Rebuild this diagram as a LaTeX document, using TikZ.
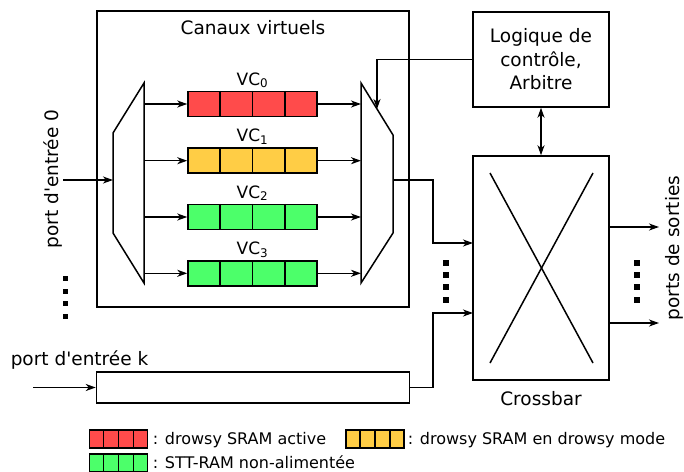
\documentclass[tikz,border=0pt]{standalone}
\usepackage{fontspec}
\setmainfont{DejaVu Sans}[Ligatures=TeXOff]
\usetikzlibrary{arrows.meta,calc}
\definecolor{vcred}{RGB}{255,75,75}
\definecolor{vcyel}{RGB}{255,205,69}
\definecolor{vcgreen}{RGB}{76,255,106}
\newcommand\cellsdiv[1]{\foreach \k in {1,2,3} \draw ($(#1.north west)!\k/4!(#1.north east)$) -- ($(#1.south west)!\k/4!(#1.south east)$);}
\begin{document}
\begin{tikzpicture}[x=1pt,y=-1pt,line width=1.5pt,
  >={Stealth[length=10pt,width=7pt,inset=3pt]}]
\tikzset{
 plainbox/.style={draw, inner sep=0pt},
 txt/.style={font=\fontsize{18.5}{23.5}\selectfont, inner sep=0pt},
 vctxt/.style={font=\fontsize{17}{20}\selectfont, inner sep=0pt, anchor=base},
 legtxt/.style={font=\fontsize{16}{19}\selectfont, inner sep=0pt, anchor=base west},
 buf/.style={draw, inner sep=0pt, minimum width=129pt, minimum height=25pt},
 swatch/.style={draw, inner sep=0pt, minimum width=58pt, minimum height=18pt},
 sqdot/.style={fill, inner sep=0pt, minimum size=#1},
}
\useasboundingbox (0,0) rectangle (684,471);

% Canaux virtuels
\node[plainbox, minimum width=312pt, minimum height=296pt] (cv) at (253,159) {};
\node[txt, anchor=base] (cvl) at (253,34.5) {Canaux virtuels};

% demux
\coordinate (dm1) at (144,83);
\coordinate (dm2) at (113,133);
\coordinate (dm3) at (113,233);
\coordinate (dm4) at (144,283);
\draw (dm1) -- (dm2) -- (dm3) -- (dm4) -- cycle;
\coordinate (dmin) at (113,180);
% mux
\coordinate (mx1) at (361,83);
\coordinate (mx2) at (393,135);
\coordinate (mx3) at (393,233);
\coordinate (mx4) at (361,283);
\draw (mx1) -- (mx2) -- (mx3) -- (mx4) -- cycle;
\coordinate (mxout) at (393,180);
\coordinate (mxctl) at (377,109);

\foreach \i/\y/\c in {0/104/vcred,1/160.7/vcyel,2/217/vcgreen,3/273.3/vcgreen}{
  \node[buf, fill=\c] (b\i) at (252.5,\y) {};
  \cellsdiv{b\i}
  \node[vctxt] (vcl\i) at (252.5,\y-19) {VC\textsubscript{\i}};
  \coordinate (dmo\i) at (144,\y);
  \coordinate (mxi\i) at (361,\y);
  \draw[->] (dmo\i) -- (b\i.west);
  \draw[->] (b\i.east) -- (mxi\i);
}

% input 0
\coordinate (in0) at (63,180);
\draw[->] (in0) -- (dmin);
\node[txt, rotate=90, anchor=base] (p0l) at (58,179) {port d'entrée 0};
\foreach \y [count=\n] in {278,291,303,316} \node[sqdot=5pt] (ld\n) at (65,\y) {};

% control logic
\node[plainbox, txt, align=center, minimum width=136pt, minimum height=95pt] (lg) at (541,59.5) {Logique de\\contrôle,\\Arbitre};
\draw[->] (lg.west) -| (mxctl);

% crossbar
\node[plainbox, minimum width=136pt, minimum height=224pt] (xb) at (541,268) {};
\draw (490,173) -- (593,363);
\draw (593,173) -- (490,363);
\node[txt, anchor=base] (xbl) at (541,405) {Crossbar};
\draw[<->] (lg.south) -- (xb.north);

\coordinate (j0) at (433,180);
\coordinate (xbi0) at (473,243);
\draw[->] (mxout) -- (j0) |- (xbi0);

% port k
\node[plainbox, minimum width=313pt, minimum height=31pt] (pk) at (253,387.5) {};
\coordinate (ink) at (33,387.5);
\draw[->] (ink) -- (pk.west);
\node[txt, anchor=base west] (pkl) at (10,365) {port d'entrée k};
\coordinate (j1) at (433,387.5);
\coordinate (xbi1) at (473,313);
\draw[->] (pk.east) -- (j1) |- (xbi1);

\foreach \y [count=\n] in {263,275,287,300} {
  \node[sqdot=6pt] (md\n) at (446,\y) {};
  \node[sqdot=6pt] (rd\n) at (637,\y) {};
}

% outputs
\coordinate (o0) at (659,227);
\coordinate (o1) at (659,323);
\draw[->] (xb.east |- o0) -- (o0);
\draw[->] (xb.east |- o1) -- (o1);
\node[txt, rotate=90, anchor=base] (outl) at (679.5,248) {ports de sorties};

% legend
\node[swatch, fill=vcred] (lr) at (118.5,439) {};
\cellsdiv{lr}
\node[legtxt] (lrt) at (152,444) {: drowsy SRAM active};
\node[swatch, fill=vcyel] (ly) at (375,439) {};
\cellsdiv{ly}
\node[legtxt] (lyt) at (407,444) {: drowsy SRAM en drowsy mode};
\node[swatch, fill=vcgreen] (lgr) at (118.5,463) {};
\cellsdiv{lgr}
\node[legtxt] (lgt) at (152,468) {: STT-RAM non-alimentée};
\end{tikzpicture}
\end{document}
